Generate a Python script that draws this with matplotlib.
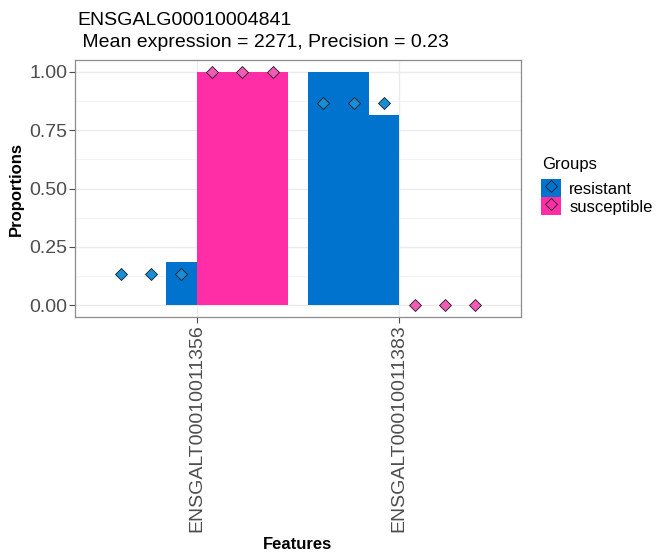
import numpy as np
import matplotlib
matplotlib.use("Agg")
import matplotlib.pyplot as plt
from matplotlib.lines import Line2D
from matplotlib.patches import Patch
from matplotlib.legend_handler import HandlerTuple

plt.rcParams['font.family'] = ['Liberation Sans', 'DejaVu Sans']

features = ["ENSGALT00010011356", "ENSGALT00010011383"]
groups = ["resistant", "susceptible"]
# per-sample proportions (3 samples per group)
bar_vals = {
    "resistant": [[0.0, 0.0, 0.185], [1.0, 1.0, 0.815]],
    "susceptible": [[1.0, 1.0, 1.0], [0.0, 0.0, 0.0]],
}
point_vals = {
    "resistant": [[0.135, 0.135, 0.135], [0.865, 0.865, 0.865]],
    "susceptible": [[1.0, 1.0, 1.0], [0.0, 0.0, 0.0]],
}
bar_col = {"resistant": "#0073CF", "susceptible": "#FF2EA6"}
pt_col = {"resistant": "#168FD6", "susceptible": "#F25AB6"}

title1 = "ENSGALG00010004841"
title2 = " Mean expression = 2271, Precision = 0.23"

W, H = 657, 554
fig = plt.figure(figsize=(W / 100, H / 100), dpi=100)
ax = fig.add_axes([75 / W, 1 - 317 / H, 446 / W, 257 / H])

sub_w = 0.15
for gi, g in enumerate(groups):
    for fi in range(len(features)):
        x0 = fi + 1 + (gi - 1) * 0.45
        xs = x0 + sub_w * (np.arange(3) + 0.5)
        ax.bar(xs, bar_vals[g][fi], width=sub_w, color=bar_col[g], zorder=2)
        ax.plot(xs, point_vals[g][fi], 'D', ms=6.5, mfc=pt_col[g],
                mec="#1a1a1a", mew=0.6, zorder=3)

ax.set_xlim(0.4, 2.6)
ax.set_ylim(-0.05, 1.05)
ax.set_xticks([1, 2])
ax.set_xticklabels(features, rotation=90, fontsize=14, color="#4d4d4d")
ax.set_yticks([0, 0.25, 0.5, 0.75, 1.0])
ax.set_yticklabels(["0.00", "0.25", "0.50", "0.75", "1.00"], fontsize=14, color="#4d4d4d")
ax.set_yticks([0.125, 0.375, 0.625, 0.875], minor=True)
ax.tick_params(which='major', length=4, color="#4d4d4d", width=0.8, pad=1.5)
ax.tick_params(which='minor', length=0)
ax.grid(True, which='major', color="#ebebeb", lw=1.0, zorder=0)
ax.grid(True, which='minor', axis='y', color="#f2f2f2", lw=0.6, zorder=0)
ax.set_axisbelow(True)
for s in ax.spines.values():
    s.set_color("#8c8c8c")
    s.set_linewidth(0.9)

ax.set_xlabel("Features", fontsize=12, fontweight='bold', labelpad=3)
ax.set_ylabel("Proportions", fontsize=12, fontweight='bold', labelpad=4)
fig.text(77 / W, 1 - 25 / H, title1, fontsize=14, va='baseline', ha='left')
fig.text(77 / W, 1 - 47 / H, title2, fontsize=14, va='baseline', ha='left')

# legend
fig.text(542 / W, 1 - 169 / H, "Groups", fontsize=12, va='baseline', ha='left')
handles = [(Patch(facecolor=bar_col[g]),
            Line2D([], [], marker='D', ls='', ms=6.5, mfc=bar_col[g], mec="#1a1a1a", mew=0.6))
           for g in groups]
fig.legend(handles, groups, loc='upper left', bbox_to_anchor=(541 / W, 1 - 179 / H),
           fontsize=12, frameon=False, borderpad=0, borderaxespad=0,
           handlelength=1.2, handleheight=1.3, handletextpad=0.5, labelspacing=0.0,
           handler_map={tuple: HandlerTuple(ndivide=1)})

fig.savefig("out.png", dpi=100)
